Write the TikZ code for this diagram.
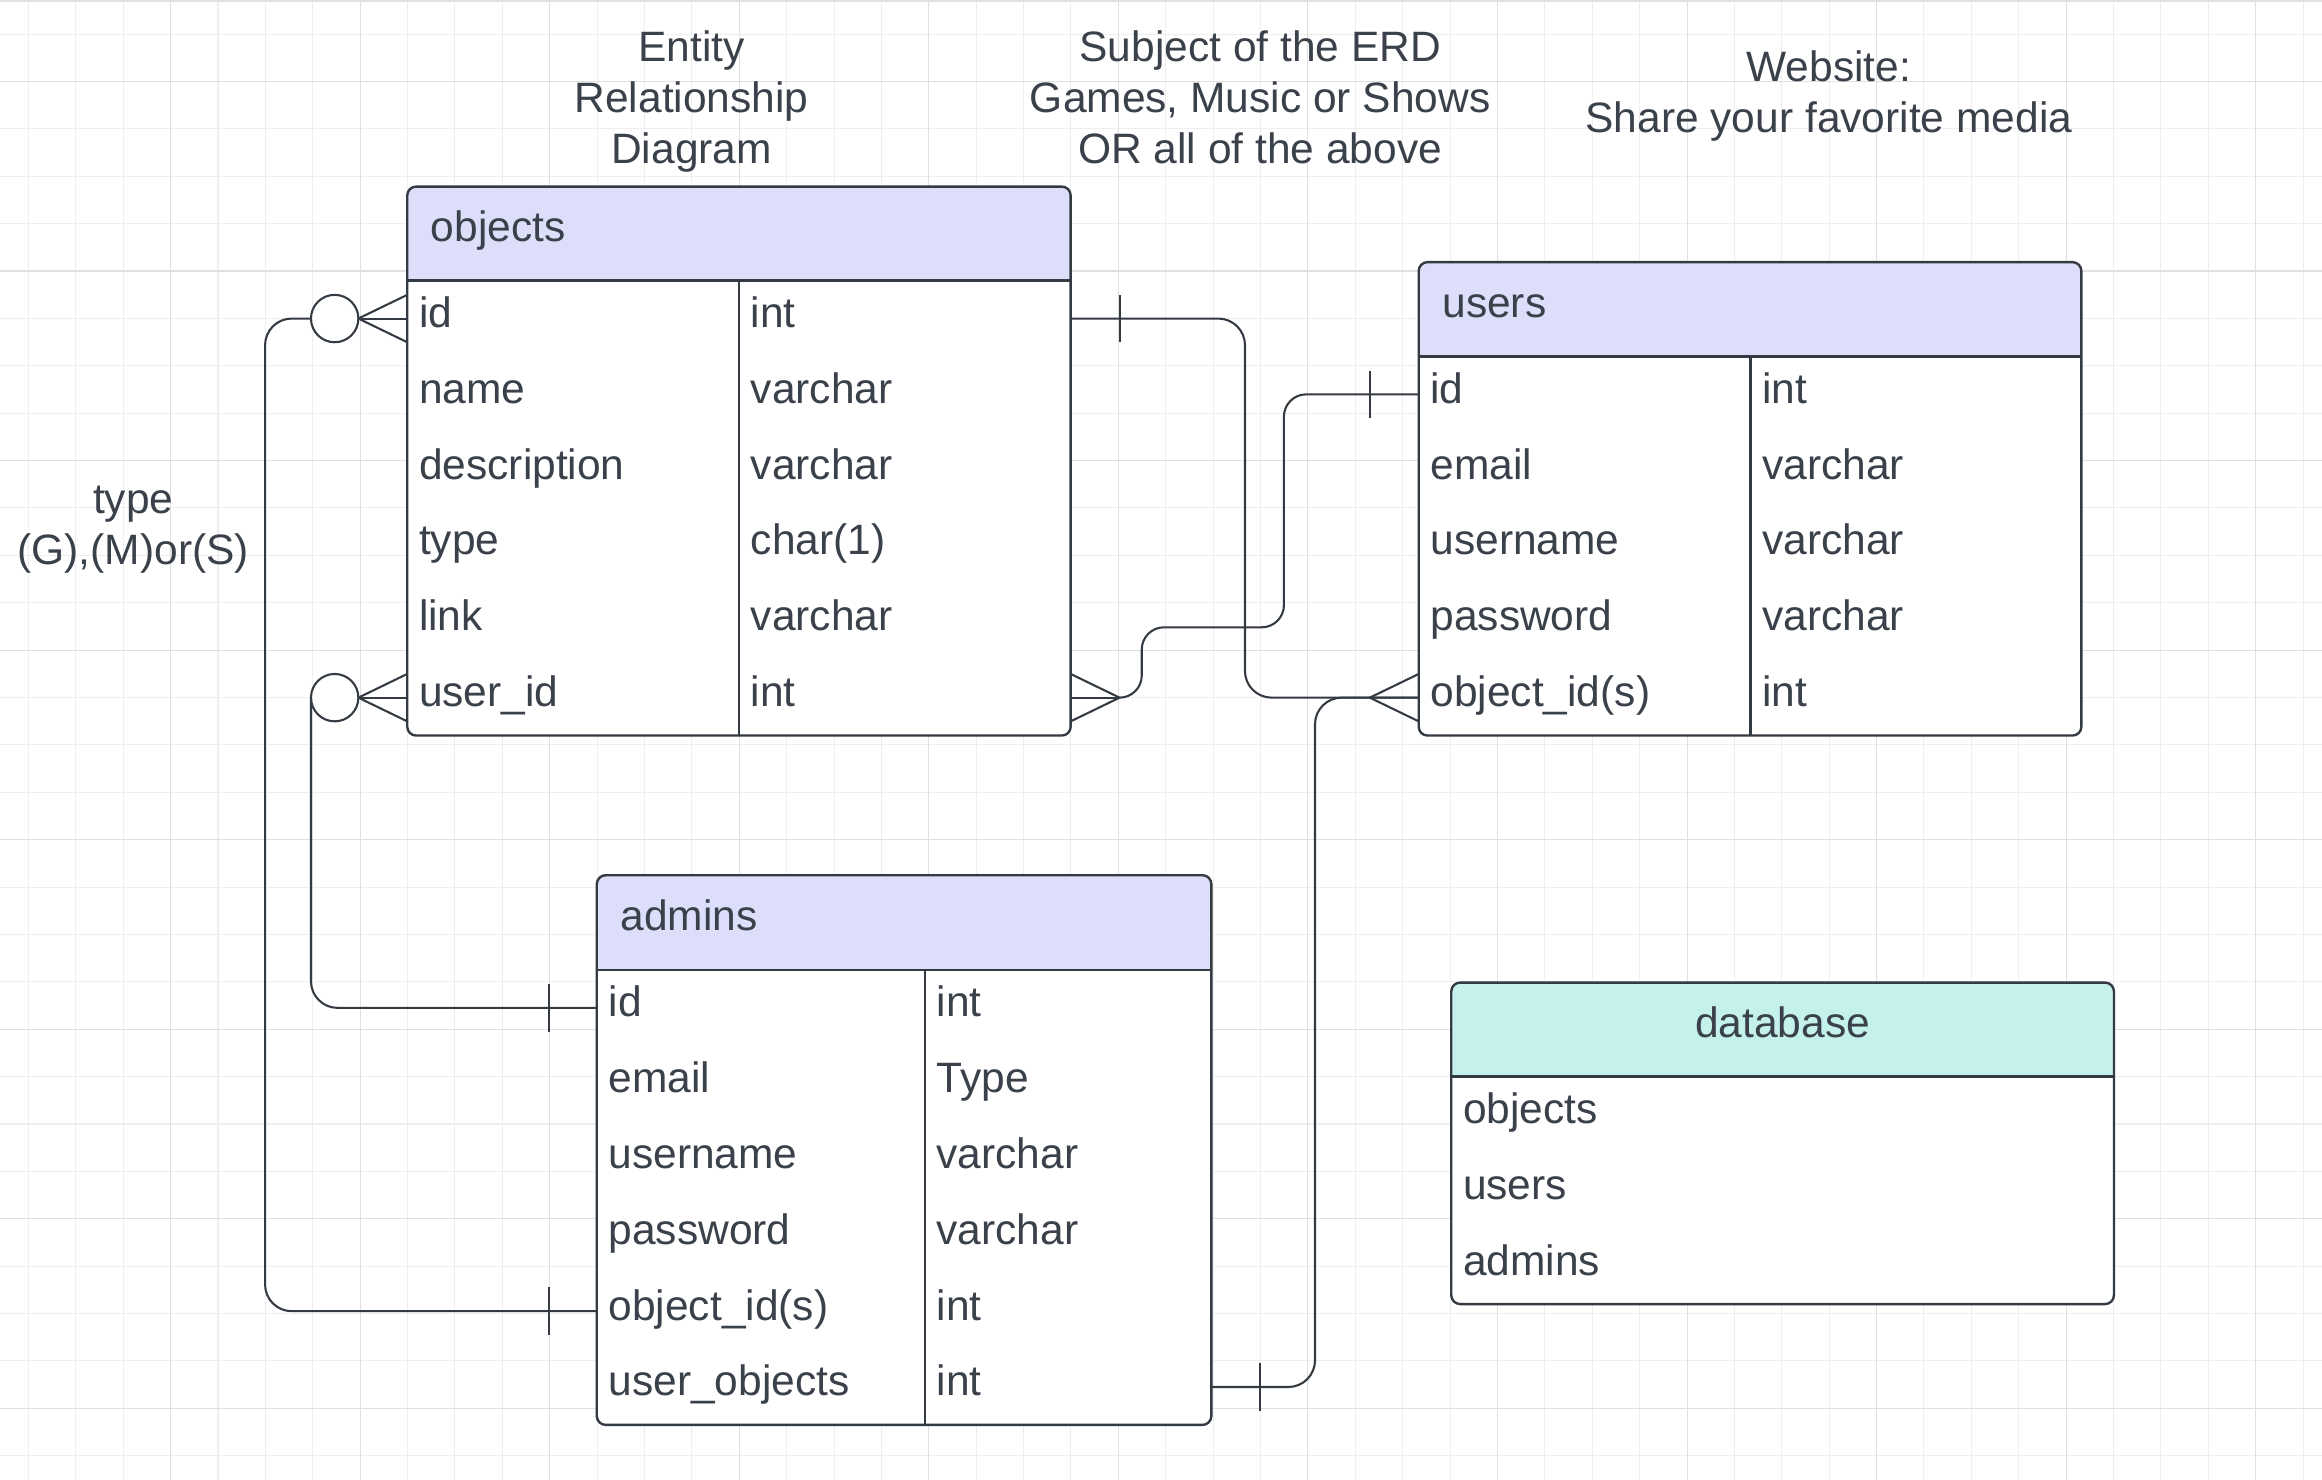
\documentclass[tikz,border=0pt]{standalone}
\usepackage{fontspec}
\setmainfont{Liberation Sans}
\usetikzlibrary{calc}
\definecolor{ink}{RGB}{58,65,74}
\definecolor{edge}{RGB}{52,58,66}
\definecolor{hdr}{RGB}{221,222,250}
\definecolor{hdrteal}{RGB}{196,241,235}
\definecolor{gridminor}{RGB}{238,238,238}
\definecolor{gridmajor}{RGB}{224,224,224}
\definecolor{topband}{RGB}{222,226,231}
\newcommand{\erdframe}[6]{%
  \begin{scope}
    \clip[rounded corners=6pt] (#1,#2) rectangle (#3,#5);
    \fill[white] (#1,#2) rectangle (#3,#5);
    \fill[#6] (#1,#2) rectangle (#3,#4);
  \end{scope}
  \draw[frame, rounded corners=6pt] (#1,#2) rectangle (#3,#5);
  \draw[frame] (#1,#4) -- (#3,#4);
}
\begin{document}
\begin{tikzpicture}[x=1pt,y=-1pt,
  every node/.style={inner sep=0pt, outer sep=0pt, text=ink, font=\fontsize{28.7}{34.5}\selectfont},
  cell/.style={anchor=base west},
  rowslot/.style={minimum width=#1, minimum height=51.2pt, draw=none},
  conn/.style={draw=edge, line width=1.4pt, rounded corners=18pt},
  crowline/.style={draw=edge, line width=1.4pt},
  frame/.style={draw=edge, line width=1.6pt},
  title/.style={align=center, anchor=base},
  ring/.style={circle, draw=edge, line width=1.4pt, fill=white, minimum size=32pt},
]
\useasboundingbox (0,0) rectangle (1568,999.4);
\fill[white] (0,0) rectangle (1568,999.4);
% grid
\begin{scope}
\clip (0,0) rectangle (1568,999.4);
\foreach \k in {0,...,48} \draw[gridminor, line width=0.7pt] (19.2+32*\k,0) -- (19.2+32*\k,999.4);
\foreach \k in {0,...,30} \draw[gridminor, line width=0.7pt] (0,23+32*\k) -- (1568,23+32*\k);
\foreach \k in {0,...,11} \draw[gridmajor, line width=0.7pt] (115.2+128*\k,0) -- (115.2+128*\k,999.4);
\foreach \k in {0,...,7} \draw[gridmajor, line width=0.7pt] (0,55+128*\k) -- (1568,55+128*\k);
\fill[topband] (0,0) rectangle (1568,1.4);
\end{scope}

% titles (base anchor = baseline of last line)
\node[title] (t1) at (467,110.5) {Entity\\Relationship\\Diagram};
\node[title] (t2) at (851,110.5) {Subject of the ERD\\Games, Music or Shows\\OR all of the above};
\node[title] (t3) at (1235,89.5) {Website:\\Share your favorite media};
\node[title] (t4) at (90,381) {type\\(G),(M)or(S)};

% objects table
\erdframe{275}{126}{723}{189.5}{496.7}{hdr}
\draw[frame] (499,189.5) -- (499,496.7);
\node[cell] (objects) at (291,163.3) {objects};
\foreach \fa/\fb [count=\i] in {id/int,name/varchar,description/varchar,type/char(1),link/varchar,user\_id/int}{
  \node[rowslot=448pt] (o\i) at (499,163.9+51.2*\i) {};
  \node[cell] (o\i a) at (283,169.9+51.2*\i) {\fa};
  \node[cell] (o\i b) at (507,169.9+51.2*\i) {\fb};
}

% users table
\erdframe{958}{177}{1405.5}{240.7}{496.7}{hdr}
\draw[frame] (1182,240.7) -- (1182,496.7);
\node[cell] (users) at (974,214.3) {users};
\foreach \fa/\fb [count=\i] in {id/int,email/varchar,username/varchar,password/varchar,object\_id(s)/int}{
  \node[rowslot=447.5pt] (u\i) at (1181.75,215.1+51.2*\i) {};
  \node[cell] (u\i a) at (966,221.1+51.2*\i) {\fa};
  \node[cell] (u\i b) at (1190,221.1+51.2*\i) {\fb};
}

% admins table
\erdframe{403}{591}{818}{655}{962.2}{hdr}
\draw[frame] (624.5,655) -- (624.5,962.2);
\node[cell] (admins) at (419,628.3) {admins};
\foreach \fa/\fb [count=\i] in {id/int,email/Type,username/varchar,password/varchar,object\_id(s)/int,user\_objects/int}{
  \node[rowslot=415pt] (a\i) at (610.5,629.4+51.2*\i) {};
  \node[cell] (a\i a) at (411,635.4+51.2*\i) {\fa};
  \node[cell] (a\i b) at (632.5,635.4+51.2*\i) {\fb};
}

% database table
\erdframe{980}{663.5}{1427.5}{727}{880.6}{hdrteal}
\node[anchor=base] (database) at (1203.75,700.8) {database};
\foreach \fa [count=\i] in {objects,users,admins}{
  \node[rowslot=447.5pt] (d\i) at (1203.75,701.4+51.2*\i) {};
  \node[cell] (d\i a) at (988,707.4+51.2*\i) {\fa};
}

% connector 1: objects.id (zero or many) -- admins.object_id(s) (one)
\draw[crowline] ($(o1.west)+(0,-16)$) -- ($(o1.west)+(-33,0)$) -- ($(o1.west)+(0,16)$);
\draw[crowline] (o1.west) -- ++(-33,0);
\node[ring] (c1) at ($(o1.west)+(-49,0)$) {};
\draw[conn] (c1.west) -- ++(-31,0) |- (a5.west);
\draw[crowline] ($(a5.west)+(-32,-16)$) -- ++(0,32);

% connector 2: objects.user_id (zero or many) -- admins.id (one)
\draw[crowline] ($(o6.west)+(0,-16)$) -- ($(o6.west)+(-33,0)$) -- ($(o6.west)+(0,16)$);
\draw[crowline] (o6.west) -- ++(-33,0);
\node[ring] (c2) at ($(o6.west)+(-49,0)$) {};
\draw[conn] (c2.west) |- (a1.west);
\draw[crowline] ($(a1.west)+(-32,-16)$) -- ++(0,32);

% connector 3: objects.id (one) -- users.object_id(s) (many)
\draw[conn] (o1.east) -- ++(117.7,0) |- (u5.west);
\draw[crowline] ($(o1.east)+(33,-16)$) -- ++(0,32);
\draw[crowline] ($(u5.west)+(0,-16)$) -- ($(u5.west)+(-33,0)$) -- ($(u5.west)+(0,16)$);

% connector 4: objects.user_id (many) -- users.id (one)
\draw[crowline] ($(o6.east)+(0,-16)$) -- ($(o6.east)+(33,0)$) -- ($(o6.east)+(0,16)$);
\draw[crowline] (o6.east) -- ++(33,0);
\draw[conn, rounded corners=15pt] ($(o6.east)+(33,0)$) -- ++(15,0) -- ++(0,-47.5) -- ++(96,0) |- (u1.west);
\draw[crowline] ($(u1.west)+(-33,-16)$) -- ++(0,32);

% connector 5: admins.user_objects (one) -- users.object_id(s)
\draw[conn] (a6.east) -- ++(70,0) |- (u5.west);
\draw[crowline] ($(a6.east)+(33,-16)$) -- ++(0,32);
\end{tikzpicture}
\end{document}
